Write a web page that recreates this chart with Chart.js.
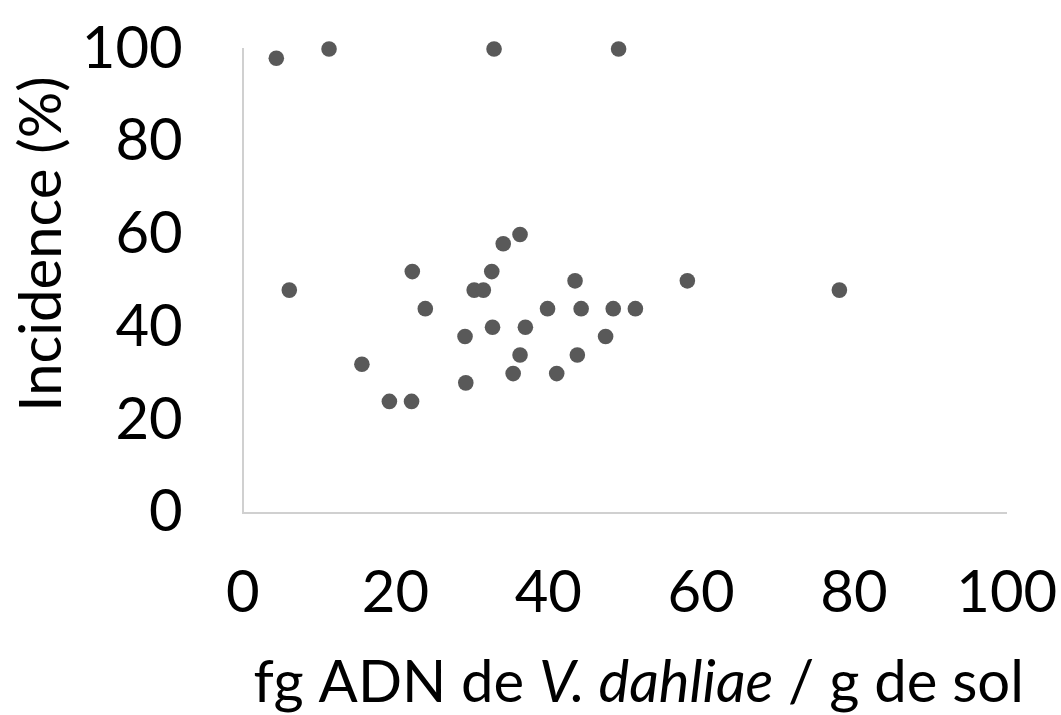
<!DOCTYPE html>
<html lang="fr">
<head>
<meta charset="utf-8">
<title>Incidence vs fg ADN de V. dahliae</title>
<script src="https://cdn.jsdelivr.net/npm/chart.js@4/dist/chart.umd.min.js"></script>
<style>
  html, body { margin: 0; padding: 0; background: #fff; }
  #wrap { position: relative; width: 1061px; height: 715px; }
</style>
</head>
<body>
<div id="wrap"><canvas id="chart"></canvas></div>
<script>
(function () {
  'use strict';

  // ─── Data ────────────────────────────────────────────
  const dnaFg = [
    4.4, 11.3, 32.9, 49.2, 6.1, 22.2, 23.9, 15.6, 19.2, 22.1,
    29.1, 29.2, 30.3, 31.5, 32.6, 32.7, 34.1, 36.3, 35.4, 36.3,
    37.0, 39.9, 41.1, 43.5, 43.8, 44.3, 47.5, 48.5, 51.4, 58.2,
    78.1
  ];
  const incidence = [
    98, 100, 100, 100, 48, 52, 44, 32, 24, 24,
    38, 28, 48, 48, 52, 40, 58, 60, 30, 34,
    40, 44, 30, 50, 34, 44, 38, 44, 44, 50,
    48
  ];
  const xTicks = [0, 20, 40, 60, 80, 100];
  const yTicks = [0, 20, 40, 60, 80, 100];

  const FONT = 'Lato';
  const FONT_SIZE = 58;
  const AXIS_COLOR = '#d0d0d0';
  const DOT_COLOR = '#595959';

  const points = dnaFg.map((x, i) => ({ x: x, y: incidence[i] }));

  // no automatic room for label overhang: the plot box is fixed by layout padding
  function noOverhang(s) {
    s.paddingTop = 0;
    s.paddingBottom = 0;
    s.paddingLeft = 0;
    s.paddingRight = 0;
  }

  // ─── Axis titles (mixed italic needs a custom draw) ──
  const axisTitles = {
    id: 'axisTitles',
    afterDraw(chart) {
      const { ctx, chartArea } = chart;
      ctx.save();
      ctx.fillStyle = '#000';
      ctx.textBaseline = 'alphabetic';

      // x title: "fg ADN de V. dahliae / g de sol"
      const parts = [
        { t: 'fg ADN de ', italic: false },
        { t: 'V. dahliae', italic: true },
        { t: ' / g de sol', italic: false }
      ];
      const fontOf = (p) => `${p.italic ? 'italic ' : ''}${FONT_SIZE}px ${FONT}`;
      let total = 0;
      parts.forEach(p => { ctx.font = fontOf(p); p.w = ctx.measureText(p.t).width; total += p.w; });
      let x = chartArea.left + 396 - total / 2;
      const baseY = chartArea.bottom + 189;
      parts.forEach(p => {
        ctx.font = fontOf(p);
        ctx.fillText(p.t, x, baseY);
        x += p.w;
      });

      // y title: "Incidence (%)"
      ctx.font = `${FONT_SIZE}px ${FONT}`;
      ctx.translate(61, chartArea.top + 195);
      ctx.rotate(-Math.PI / 2);
      ctx.textAlign = 'center';
      ctx.fillText('Incidence (%)', 0, 0);
      ctx.restore();
    }
  };

  // ─── Chart.js Setup ──────────────────────────────────
  const ctx = document.getElementById('chart').getContext('2d');

  new Chart(ctx, {
    type: 'scatter',
    data: {
      datasets: [{
        label: 'Incidence',
        data: points,
        backgroundColor: DOT_COLOR,
        borderWidth: 0,
        pointRadius: 7.8,
        pointHoverRadius: 7.8,
        clip: false
      }]
    },
    options: {
      responsive: true,
      maintainAspectRatio: false,
      animation: false,
      layout: { padding: { top: 49, right: 54.3, left: 0, bottom: 0 } },
      plugins: {
        legend: { display: false },
        tooltip: { enabled: false }
      },
      scales: {
        x: {
          type: 'linear',
          min: 0,
          max: 100,
          afterBuildTicks: (s) => { s.ticks = xTicks.map(v => ({ value: v })); },
          afterFit: (s) => { s.height = 715 - 512.7; noOverhang(s); },
          grid: { display: false, drawTicks: false },
          border: { display: true, color: AXIS_COLOR, width: 2 },
          ticks: {
            color: '#000',
            padding: 46,
            maxRotation: 0,
            font: { family: FONT, size: FONT_SIZE }
          }
        },
        y: {
          type: 'linear',
          min: 0,
          max: 100,
          afterBuildTicks: (s) => { s.ticks = yTicks.map(v => ({ value: v })); },
          afterFit: (s) => { s.width = 242.7; noOverhang(s); },
          grid: { display: false, drawTicks: false },
          border: { display: true, color: AXIS_COLOR, width: 2 },
          ticks: {
            color: '#000',
            padding: 60,
            font: { family: FONT, size: FONT_SIZE }
          }
        }
      }
    },
    plugins: [axisTitles]
  });
})();
</script>
</body>
</html>
